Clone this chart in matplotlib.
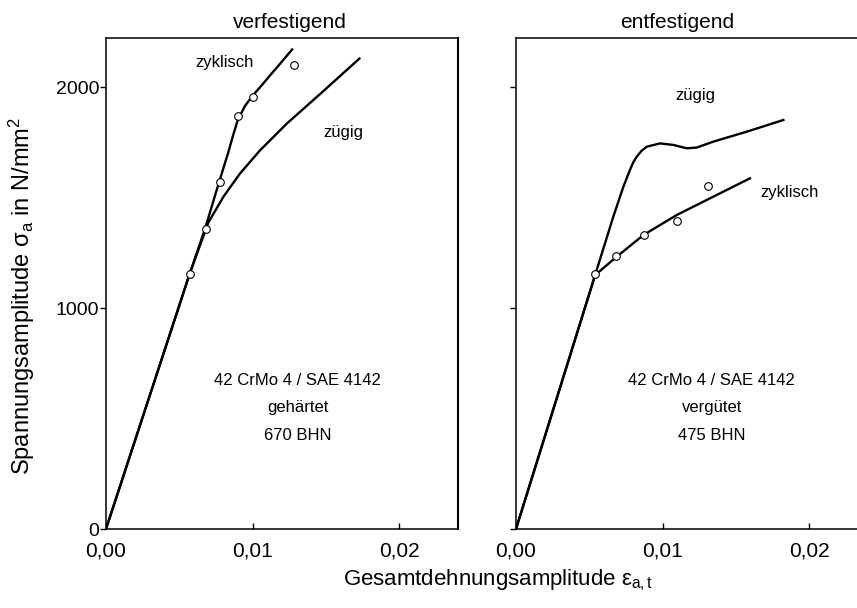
import matplotlib
matplotlib.use("Agg")
import matplotlib.pyplot as plt

plt.rcParams['font.family'] = ['Liberation Sans', 'DejaVu Sans']
plt.rcParams['mathtext.fontset'] = 'custom'
plt.rcParams['mathtext.rm'] = 'Liberation Sans'
plt.rcParams['mathtext.it'] = 'Liberation Sans'

# --- verfestigend (gehaertet, 670 BHN) ---
hard_cyc_x = [0.0, 0.0057, 0.00674, 0.00772, 0.00834, 0.00868, 0.00898,
              0.00948, 0.01001, 0.01063, 0.0112, 0.01189, 0.01269]
hard_cyc_y = [0, 1154, 1356, 1572, 1705, 1785, 1850,
              1915, 1962, 2009, 2054, 2107, 2170]
hard_mono_x = [0.0, 0.0057, 0.00697, 0.00801, 0.00914, 0.01052, 0.01235, 0.01464, 0.01728]
hard_mono_y = [0, 1154, 1386, 1504, 1609, 1715, 1836, 1971, 2129]
hard_pts_x = [0.0057, 0.0068, 0.00777, 0.0090, 0.0100, 0.01285]
hard_pts_y = [1154, 1357, 1571, 1869, 1956, 2100]

# --- entfestigend (verguetet, 475 BHN) ---
soft_cyc_x = [0.0, 0.0054, 0.00687, 0.00869, 0.01097, 0.01347, 0.01597]
soft_cyc_y = [0, 1149, 1232, 1330, 1421, 1504, 1587]
soft_mono_x = [0.0, 0.0054, 0.00664, 0.00733, 0.00778, 0.00801, 0.00824, 0.00858,
               0.00892, 0.00983, 0.01074, 0.01165, 0.01233, 0.01347, 0.01575, 0.01825]
soft_mono_y = [0, 1149, 1413, 1549, 1625, 1660, 1685, 1712,
               1730, 1745, 1738, 1723, 1726, 1753, 1798, 1851]
soft_pts_x = [0.0054, 0.00683, 0.00874, 0.01097, 0.01308]
soft_pts_y = [1154, 1235, 1330, 1394, 1553]

xticks = [0.0, 0.01, 0.02]
xticklabels = ["0,00", "0,01", "0,02"]
yticks = [0, 1000, 2000]
yticklabels = ["0", "1000", "2000"]

W, H = 857, 608
fig = plt.figure(figsize=(W / 100, H / 100), dpi=100)

ax1 = fig.add_axes([106 / W, (H - 529) / H, (458 - 106) / W, (529 - 38) / H])
ax2 = fig.add_axes([516 / W, (H - 529) / H, 0.024 * 14650 / W, (529 - 38) / H])

for ax in (ax1, ax2):
    ax.set_xlim(0, 0.024)
    ax.set_ylim(0, 2222)
    ax.set_xticks(xticks)
    ax.set_xticklabels(xticklabels, fontsize=15)
    ax.set_yticks(yticks)
    ax.tick_params(axis='x', direction='in', length=4, width=1, pad=9)
    ax.tick_params(axis='y', direction='out', length=4, width=1, pad=1)
    for s in ax.spines.values():
        s.set_linewidth(1.1)
ax1.spines['right'].set_linewidth(1.5)

ax1.set_yticklabels(yticklabels, fontsize=14)
ax2.set_yticklabels([])

fs = 12
# left panel
ax1.plot(hard_cyc_x, hard_cyc_y, color='black', lw=1.7)
ax1.plot(hard_mono_x, hard_mono_y, color='black', lw=1.7)
ax1.plot(hard_pts_x, hard_pts_y, linestyle='none', marker='o', ms=5.5,
         mfc='white', mec='black', mew=0.8)
ax1.text(0.00811, 2109, "zyklisch", fontsize=fs, ha='center', va='center')
ax1.text(0.01485, 1796, "zügig", fontsize=fs, ha='left', va='center')
ax1.text(0.01306, 674, "42 CrMo 4 / SAE 4142", fontsize=fs, ha='center', va='center')
ax1.text(0.01306, 552, "gehärtet", fontsize=fs, ha='center', va='center')
ax1.text(0.01306, 425, "670 BHN", fontsize=fs, ha='center', va='center')

# right panel
ax2.plot(soft_cyc_x, soft_cyc_y, color='black', lw=1.7)
ax2.plot(soft_mono_x, soft_mono_y, color='black', lw=1.7)
ax2.plot(soft_pts_x, soft_pts_y, linestyle='none', marker='o', ms=5.5,
         mfc='white', mec='black', mew=0.8)
ax2.text(0.01222, 1964, "zügig", fontsize=fs, ha='center', va='center')
ax2.text(0.01666, 1525, "zyklisch", fontsize=fs, ha='left', va='center')
ax2.text(0.01336, 674, "42 CrMo 4 / SAE 4142", fontsize=fs, ha='center', va='center')
ax2.text(0.01336, 552, "vergütet", fontsize=fs, ha='center', va='center')
ax2.text(0.01336, 425, "475 BHN", fontsize=fs, ha='center', va='center')

# titles and axis labels
fig.text(290 / W, 1 - 22 / H, "verfestigend", fontsize=15, ha='center', va='center')
fig.text(677 / W, 1 - 22 / H, "entfestigend", fontsize=15, ha='center', va='center')
fig.text(22 / W, 1 - 296 / H, r"Spannungsamplitude $\sigma_\mathrm{a}$ in N/mm$^2$",
         fontsize=17, rotation=90, ha='center', va='center')
fig.text(343 / W, 1 - 580 / H, r"Gesamtdehnungsamplitude $\varepsilon_\mathrm{a,t}$",
         fontsize=16, ha='left', va='center')

fig.savefig("out.png", dpi=100)
